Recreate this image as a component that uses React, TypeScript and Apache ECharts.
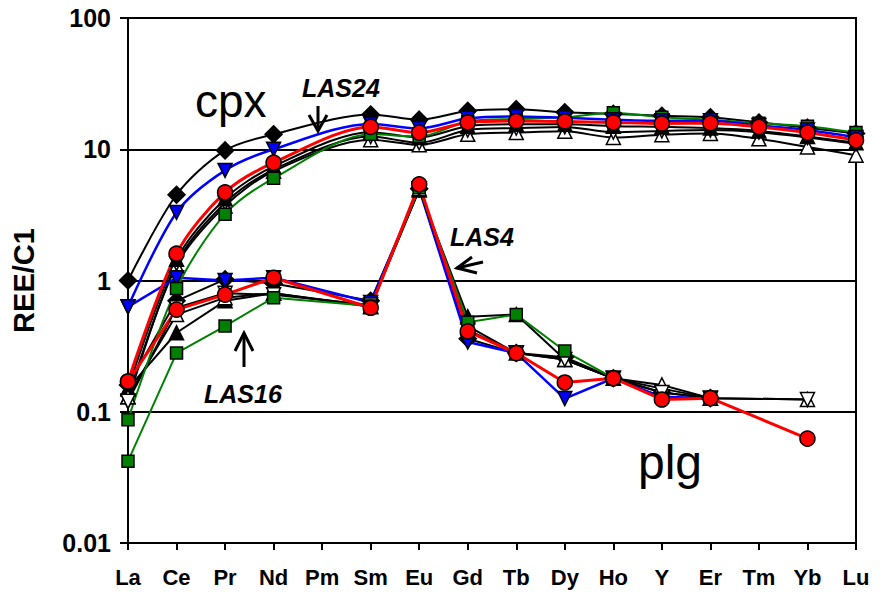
import React, { useEffect, useRef } from "react";
import * as echarts from "echarts";

const categories = ["La", "Ce", "Pr", "Nd", "Pm", "Sm", "Eu", "Gd", "Tb", "Dy", "Ho", "Y", "Er", "Tm", "Yb", "Lu"];
const yTickLabels = ["0.01", "0.1", "1", "10", "100"];

// clinopyroxene (cpx) patterns
const cpxDiamond = [1.0, 4.5, 9.8, 13, null, 18.4, 16.8, 19.6, 20.2, 19.1, 18.6, 18, 17.5, 16, 14.6, 13.2];
const cpxBlue = [0.63, 3.3, 6.9, 10, null, 15.6, 14.4, 17.2, 17.8, 17.4, 16.8, 16.5, 16.5, 15.2, 14, 12.3];
const cpxRed = [0.17, 1.6, 4.7, 7.9, null, 14.8, 13.4, 16, 16.4, 16.3, 16, 15.7, 15.8, 14.8, 13.4, 11.7];
const cpxGreen = [0.087, 0.87, 3.2, 6.0, null, 13, 12.5, 16.3, 17, 17.5, 19, 17.5, 16.8, 15.8, 15, 13.4];
const cpxTriUp = [0.15, 1.45, 4.2, 7.4, null, 13.5, 12.3, 15, 15.5, 15.5, 15, 14.8, 14.5, 13.8, 12.5, 11.2];
const cpxTriDownOpen = [0.12, 1.35, 3.9, 7, null, 12.5, 11.2, 14, 14.5, 14.8, 13.5, 13.8, 14, 13.5, 12.3, 11];
const cpxTriUpOpen = [0.13, 1.3, 3.7, 6.8, null, 11.8, 10.8, 13, 13.4, 13.7, 12.3, 12.9, 13.2, 12, 10.4, 9.0];

// plagioclase (plg) patterns
const plgDiamond = [0.16, 0.7, 1.02, 0.95, null, 0.7, 5.0, 0.36, 0.28, 0.26, 0.18, 0.14, 0.127, null, null, null];
const plgBlue = [0.63, 1.05, 1.0, 1.05, null, 0.68, 5.0, 0.34, 0.28, 0.126, 0.18, 0.13, 0.127, null, null, null];
const plgRed = [0.17, 0.6, 0.78, 1.05, null, 0.62, 5.4, 0.41, 0.28, 0.167, 0.18, 0.124, 0.127, null, 0.0625, null];
const plgGreen = [0.042, 0.28, 0.45, 0.74, null, 0.64, 5.1, 0.48, 0.55, 0.29, 0.18, null, null, null, null, null];
const plgTriUp = [0.15, 0.4, 0.7, 0.8, null, 0.64, 4.9, 0.53, 0.55, 0.25, 0.18, 0.15, 0.127, null, null, null];
const plgTriDownOpen = [0.12, 0.62, 0.8, 0.78, null, 0.65, 5.0, 0.42, 0.28, 0.25, 0.18, 0.14, 0.127, null, 0.124, null];
const plgTriUpOpen = [0.13, 0.55, 0.74, 0.8, null, 0.63, 5.0, 0.45, 0.28, 0.25, 0.18, 0.16, 0.127, null, 0.124, null];

const FONT = "Liberation Sans, Arial, sans-serif";

type Sty = {
  symbol: string;
  size: number;
  rotate?: number;
  fill: string;
  line: string;
  lw: number;
};

const styles: Record<string, Sty> = {
  triUpOpen: { symbol: "triangle", size: 14, fill: "#ffffff", line: "#000000", lw: 2 },
  triDownOpen: { symbol: "triangle", size: 14, rotate: 180, fill: "#ffffff", line: "#000000", lw: 2 },
  triUp: { symbol: "triangle", size: 14, fill: "#000000", line: "#000000", lw: 2 },
  diamond: { symbol: "diamond", size: 17, fill: "#000000", line: "#000000", lw: 2 },
  green: { symbol: "rect", size: 12, fill: "#008000", line: "#008000", lw: 2 },
  blue: { symbol: "triangle", size: 14, rotate: 180, fill: "#0000ff", line: "#0000ff", lw: 2.5 },
  red: { symbol: "circle", size: 15, fill: "#ff0000", line: "#ff0000", lw: 3 },
};

function makeSeries(name: string, data: (number | null)[], key: string, smooth: boolean) {
  const s = styles[key];
  return {
    name,
    type: "line",
    data,
    connectNulls: true,
    smooth: smooth ? 0.3 : false,
    symbol: s.symbol,
    symbolSize: s.size,
    symbolRotate: s.rotate || 0,
    showSymbol: true,
    showAllSymbol: true,
    lineStyle: { color: s.line, width: s.lw },
    itemStyle: { color: s.fill, borderColor: "#000000", borderWidth: 1.5 },
    emphasis: { disabled: true },
  };
}

function arrow(points: number[][]) {
  return {
    type: "polyline",
    shape: { points },
    style: { stroke: "#000", lineWidth: 3, fill: null },
    z: 100,
  };
}

export default function App() {
  const ref = useRef<HTMLDivElement>(null);
  useEffect(() => {
    document.body.style.margin = "0";
    if (!ref.current) return;
    const chart = echarts.init(ref.current, null, { renderer: "svg" });
    const option: any = {
      animation: false,
      backgroundColor: "#ffffff",
      grid: { left: 128, right: 30, top: 18, bottom: 49, show: true, borderColor: "#000", borderWidth: 2 },
      xAxis: {
        type: "category",
        data: categories,
        boundaryGap: false,
        axisLine: { lineStyle: { color: "#000", width: 2 } },
        axisTick: { show: true, interval: 0, length: 7, lineStyle: { color: "#000", width: 2 } },
        axisLabel: { interval: 0, color: "#000", fontSize: 22, fontWeight: "bold", fontFamily: FONT, margin: 23 },
        splitLine: { show: false },
      },
      yAxis: {
        type: "log",
        logBase: 10,
        min: 0.01,
        max: 100,
        axisLine: { show: true, lineStyle: { color: "#000", width: 2 } },
        axisTick: { show: true, length: 8, lineStyle: { color: "#000", width: 2 } },
        axisLabel: {
          color: "#000",
          fontSize: 25,
          fontWeight: "bold",
          fontFamily: FONT,
          margin: 17,
          formatter: (v: number) => yTickLabels[Math.round(Math.log10(v)) + 2],
        },
        splitLine: { show: true, lineStyle: { color: "#000", width: 2 } },
        name: "REE/C1",
        nameLocation: "middle",
        nameGap: 90,
        nameRotate: 90,
        nameTextStyle: { color: "#000", fontSize: 29, fontWeight: "bold", fontFamily: FONT },
      },
      series: [
        makeSeries("cpx open up", cpxTriUpOpen, "triUpOpen", true),
        makeSeries("cpx open down", cpxTriDownOpen, "triDownOpen", true),
        makeSeries("cpx up", cpxTriUp, "triUp", true),
        makeSeries("plg up", plgTriUp, "triUp", false),
        makeSeries("plg diamond", plgDiamond, "diamond", false),
        makeSeries("plg blue", plgBlue, "blue", false),
        makeSeries("plg open up", plgTriUpOpen, "triUpOpen", false),
        makeSeries("plg open down", plgTriDownOpen, "triDownOpen", false),
        makeSeries("cpx diamond", cpxDiamond, "diamond", true),
        makeSeries("cpx green", cpxGreen, "green", true),
        makeSeries("plg green", plgGreen, "green", false),
        makeSeries("cpx blue", cpxBlue, "blue", true),
        makeSeries("cpx red", cpxRed, "red", true),
        makeSeries("plg red", plgRed, "red", false),
      ],
      graphic: [
        { type: "text", x: 195, y: 101, z: 100, style: { text: "cpx", font: `46px ${FONT}`, fill: "#000", verticalAlign: "middle" } },
        { type: "text", x: 638, y: 462, z: 100, style: { text: "plg", font: `48px ${FONT}`, fill: "#000", verticalAlign: "middle" } },
        { type: "text", x: 302, y: 88, z: 100, style: { text: "LAS24", font: `italic bold 25px ${FONT}`, fill: "#000", verticalAlign: "middle" } },
        { type: "text", x: 450, y: 237, z: 100, style: { text: "LAS4", font: `italic bold 25px ${FONT}`, fill: "#000", verticalAlign: "middle" } },
        { type: "text", x: 204, y: 394, z: 100, style: { text: "LAS16", font: `italic bold 25px ${FONT}`, fill: "#000", verticalAlign: "middle" } },
        arrow([[318, 106], [318, 131]]),
        arrow([[309, 115], [318, 131], [327, 115]]),
        arrow([[483, 262], [457, 268]]),
        arrow([[472, 257], [457, 268], [477, 273]]),
        arrow([[244, 367], [244, 333]]),
        arrow([[235, 351], [244, 333], [253, 351]]),
      ],
    };
    chart.setOption(option);
    return () => chart.dispose();
  }, []);
  return <div ref={ref} style={{ width: 886, height: 592 }} />;
}
